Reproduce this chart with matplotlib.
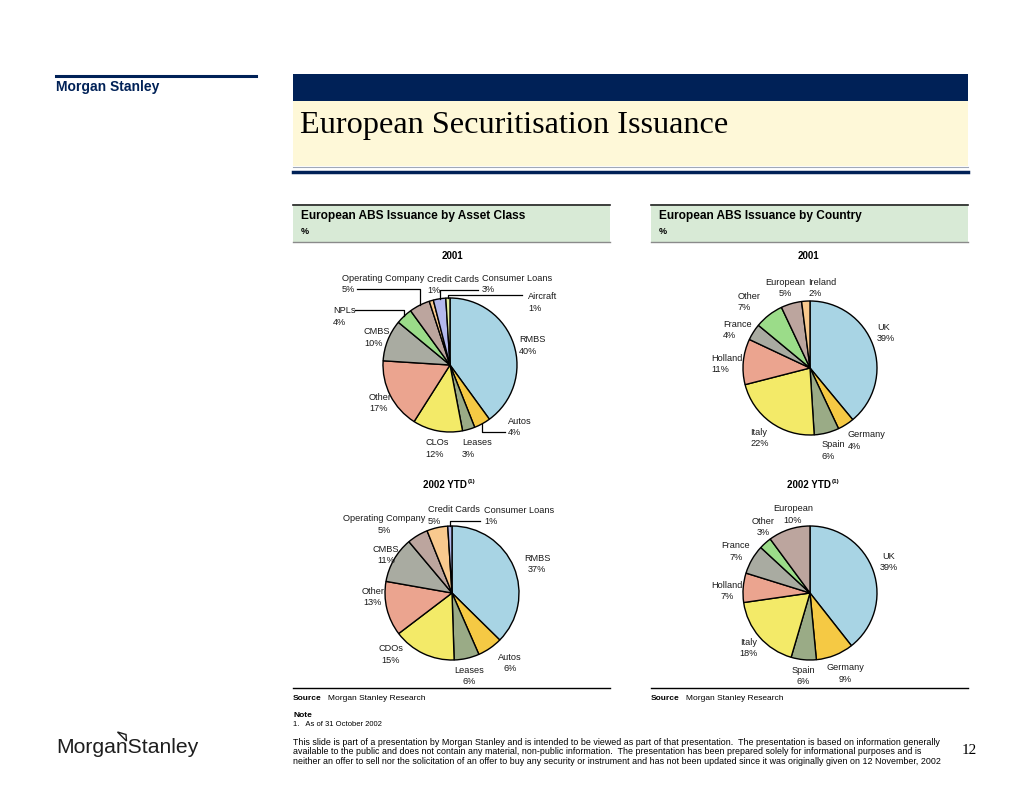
import numpy as np
import matplotlib
matplotlib.use("Agg")
import matplotlib.pyplot as plt
from matplotlib.patches import Rectangle, Polygon

plt.rcParams['font.family'] = ['Liberation Sans', 'DejaVu Sans']

# ---- data ----
asset_2001_labels = ['RMBS', 'Autos', 'Leases', 'CLOs', 'Other', 'CMBS', 'NPLs',
                     'Operating Company', 'Credit Cards', 'Consumer Loans', 'Aircraft']
asset_2001_values = [40, 4, 3, 12, 17, 10, 4, 5, 1, 3, 1]

asset_2002_labels = ['RMBS', 'Autos', 'Leases', 'CDOs', 'Other', 'CMBS',
                     'Operating Company', 'Credit Cards', 'Consumer Loans']
asset_2002_values = [37, 6, 6, 15, 13, 11, 5, 5, 1]

country_2001_labels = ['UK', 'Germany', 'Spain', 'Italy', 'Holland', 'France',
                       'Other', 'European', 'Ireland']
country_2001_values = [39, 4, 6, 22, 11, 4, 7, 5, 2]

country_2002_labels = ['UK', 'Germany', 'Spain', 'Italy', 'Holland', 'France',
                       'Other', 'European']
country_2002_values = [39, 9, 6, 18, 7, 7, 3, 10]

# slice colours by position in the pie
slice_colors = ['#a8d4e4', '#f5c944', '#9aab86', '#f3ea68', '#eba48f', '#a9aba1',
                '#9bdc89', '#bca59e', '#f8c98e', '#b3b9ec', '#e6f2a2']
asset_2002_colors = ['#a8d4e4', '#f5c944', '#9aab86', '#f3ea68', '#eba48f', '#a9aba1',
                     '#bca59e', '#f8c98e', '#b3b9ec']
country_2001_colors = ['#a8d4e4', '#f5c944', '#9aab86', '#f3ea68', '#eba48f', '#a9aba1',
                       '#9bdc89', '#bca59e', '#f8c98e']
country_2002_colors = ['#a8d4e4', '#f5c944', '#9aab86', '#f3ea68', '#eba48f', '#a9aba1',
                       '#9bdc89', '#bca59e']

NAVY = '#002157'

fig = plt.figure(figsize=(10.24, 7.91), dpi=100)
ax = fig.add_axes([0, 0, 1, 1])
ax.axis('off')


def draw_pie(values, labels, colors, center, radius, label_pos, leaders):
    ax.pie(values, colors=colors, center=center, radius=radius,
           startangle=-90, counterclock=True, frame=True,
           wedgeprops=dict(edgecolor='black', linewidth=1.0))
    total = float(sum(values))
    cum = np.cumsum([0] + list(values)) / total
    for i, (lab, val) in enumerate(zip(labels, values)):
        x, y, ha = label_pos[i]
        ax.text(x, y, '%s\n%d%%' % (lab, val), ha=ha, va='center',
                fontsize=6.6, linespacing=1.38, color='#1a1a1a')
        if i in leaders:
            phi = 2 * np.pi * (cum[i] + cum[i + 1]) / 2
            ex = center[0] + radius * np.sin(phi)
            ey = center[1] - radius * np.cos(phi)
            x0, y0 = leaders[i]
            ax.plot([x0, ex, ex], [y0, y0, ey], color='black', lw=0.9)


# header block
ax.plot([56, 256], [75.5, 75.5], color=NAVY, lw=2.2)
ax.text(56, 87, 'Morgan Stanley', fontsize=10, fontweight='bold', color=NAVY, va='center')

ax.add_patch(Rectangle((293, 74), 675, 27, facecolor=NAVY, edgecolor='none'))
ax.add_patch(Rectangle((293, 101), 675, 65, facecolor='#fef8d8', edgecolor='none'))
ax.plot([293, 968], [167, 167], color='#a0a8b8', lw=0.8)
ax.plot([293, 968], [172, 172], color=NAVY, lw=2.5)
ax.text(300, 126, 'European Securitisation Issuance', fontsize=23.2,
        family='Liberation Serif', va='center', color='black')

# section boxes
for x0, title in [(293, 'European ABS Issuance by Asset Class'),
                  (651, 'European ABS Issuance by Country')]:
    ax.add_patch(Rectangle((x0, 204), 317, 38, facecolor='#d8ead6', edgecolor='none'))
    ax.plot([x0, x0 + 317], [204.5, 204.5], color='#222222', lw=1.2)
    ax.plot([x0, x0 + 317], [241.5, 241.5], color='#8a8a8a', lw=1.0)
    ax.text(x0 + 8, 216, title, fontsize=8.6, fontweight='bold', va='center')
    ax.text(x0 + 8, 231, '%', fontsize=6.5, fontweight='bold', va='center')
    ax.plot([x0, x0 + 317], [688, 688], color='black', lw=1.0)
    ax.text(x0, 698, 'Source', fontsize=6, fontweight='bold', va='center')
    ax.text(x0 + 35, 698, 'Morgan Stanley Research', fontsize=6, va='center')

# sub titles
ax.text(452, 256, '2001', fontsize=7, fontweight='bold', ha='center', va='center')
ax.text(808, 256, '2001', fontsize=7, fontweight='bold', ha='center', va='center')
for xe in (467, 831):
    ax.text(xe, 485, '2002 YTD', fontsize=7, fontweight='bold', ha='right', va='center')
    ax.text(xe + 0.5, 482, '(1)', fontsize=4.5, fontweight='bold', ha='left', va='center')

# pies
draw_pie(asset_2001_values, asset_2001_labels, slice_colors, (450, 365), 67,
         [(519, 345.5, 'left'), (508, 427, 'left'), (462, 448.5, 'left'),
          (425, 448.5, 'left'), (369, 403, 'left'), (364, 337.5, 'left'),
          (333, 316.5, 'left'), (342, 284, 'left'), (427, 285, 'left'),
          (482, 284, 'left'), (528, 302.5, 'left')],
         {1: (505, 432), 6: (355, 310), 7: (357, 289), 9: (478, 289.5), 10: (522, 295)})

draw_pie(country_2001_values, country_2001_labels, country_2001_colors, (810, 368), 67,
         [(877, 333, 'left'), (848, 440.5, 'left'), (822, 450.5, 'left'),
          (750, 438, 'left'), (711, 364, 'left'), (723, 330, 'left'),
          (738, 302, 'left'), (785, 288, 'center'), (808, 288, 'left')],
         {})

draw_pie(asset_2002_values, asset_2002_labels, asset_2002_colors, (452, 593), 67,
         [(537, 564, 'center'), (510, 663, 'center'), (469, 676, 'center'),
          (391, 654.5, 'center'), (373, 597, 'center'), (386, 555, 'center'),
          (384, 524.5, 'center'), (428, 515.5, 'left'), (484, 516, 'left')],
         {8: (480, 520.5)})

draw_pie(country_2002_values, country_2002_labels, country_2002_colors, (810, 593), 67,
         [(889, 562, 'center'), (845, 673.5, 'center'), (803, 676, 'center'),
          (749, 648, 'center'), (727, 591, 'center'), (736, 551.5, 'center'),
          (763, 527, 'center'), (793, 514.5, 'center')],
         {})

# notes and disclaimer
ax.text(293, 715.5, 'Note', fontsize=6, fontweight='bold', va='center')
ax.text(293, 724, '1.   As of 31 October 2002', fontsize=5.5, va='center')
disclaimer = ("This slide is part of a presentation by Morgan Stanley and is intended to be viewed as part of that presentation.  "
              "The presentation is based on information generally\n"
              "available to the public and does not contain any material, non-public information.  "
              "The presentation has been prepared solely for informational purposes and is\n"
              "neither an offer to sell nor the solicitation of an offer to buy any security or instrument "
              "and has not been updated since it was originally given on 12 November, 2002")
ax.text(293, 752, disclaimer, fontsize=6.4, va='center', linespacing=1.1)
ax.text(962, 751, '12', fontsize=11, family='Liberation Serif', va='center')

# logo
ax.text(56, 753, 'MorganStanley', fontsize=15.2, va='baseline', color='#1e1e1e')
ax.add_patch(Polygon([(117.5, 732), (126, 734.5), (126.5, 741)], closed=True,
                     facecolor='none', edgecolor='#1e1e1e', lw=1.0))

ax.set_xlim(0, 1024)
ax.set_ylim(791, 0)
ax.set_aspect('auto')

fig.savefig('out.png', dpi=100)
